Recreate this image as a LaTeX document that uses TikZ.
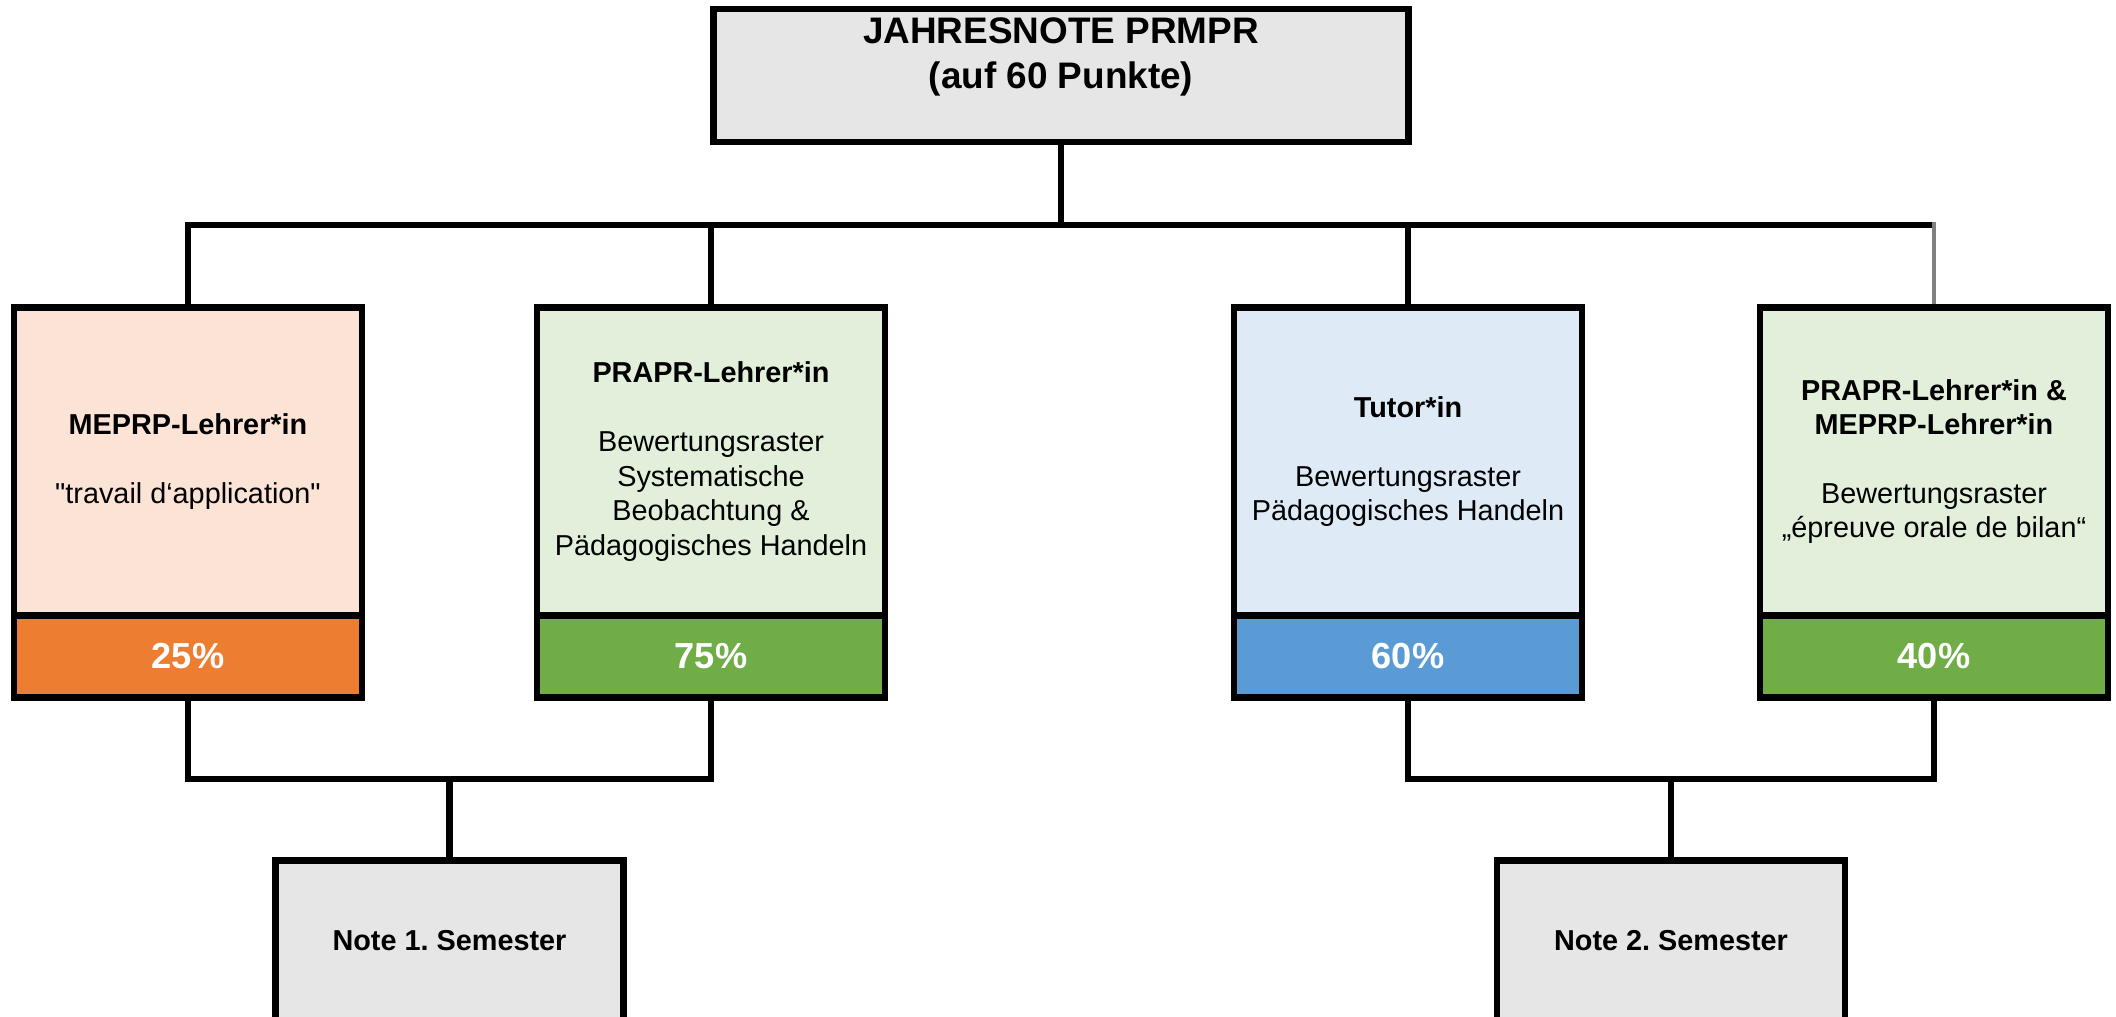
\documentclass[tikz,border=0pt]{standalone}
\usepackage{fontspec}
\setmainfont{Liberation Sans}
\frenchspacing
\definecolor{boxgray}{HTML}{E6E6E6}
\definecolor{peach}{HTML}{FBE3D6}
\definecolor{orangeband}{HTML}{ED7D31}
\definecolor{palegreen}{HTML}{E2EFDA}
\definecolor{greenband}{HTML}{70AD47}
\definecolor{paleblue}{HTML}{DEEBF7}
\definecolor{blueband}{HTML}{5B9BD5}
\definecolor{linkgray}{HTML}{808080}

\begin{document}
\begin{tikzpicture}[
  every node/.style={outer sep=0pt},
  box/.style={draw,line width=1.75pt,minimum width=3.48cm,minimum height=3.08cm,
    inner sep=0pt,align=center,font=\fontsize{8.2}{9.8}\selectfont},
  pct/.style={draw,line width=1.75pt,minimum width=3.48cm,minimum height=0.82cm,
    inner sep=0pt,text=white,font=\fontsize{10.3}{12}\selectfont\bfseries},
  semester/.style={draw,line width=1.75pt,fill=boxgray,minimum width=3.48cm,
    minimum height=1.6cm,font=\fontsize{8.2}{9.8}\selectfont\bfseries},
  link/.style={line width=1.75pt}
]
  \useasboundingbox (0,0) rectangle (21.16,-10.16);

  % top
  \node[draw,line width=1.75pt,fill=boxgray,minimum width=6.95cm,minimum height=1.33cm] (jahr) at (10.61,-0.755) {};
  \node[align=center,font=\fontsize{10.5}{13}\selectfont\bfseries] (jahrtext) at ([yshift=0.185cm]jahr.center) {JAHRESNOTE PRMPR\\(auf 60 Punkte)};

  % four parts
  \node[box,fill=peach] (meprp) at (1.88,-4.615) {\textbf{MEPRP-Lehrer*in}\\[9.8pt]\textquotedbl travail d‘application\textquotedbl};
  \node[box,fill=palegreen] (prapr) at (7.11,-4.615) {\textbf{PRAPR-Lehrer*in}\\[9.8pt]Bewertungsraster\\Systematische\\Beobachtung \&\\Pädagogisches Handeln};
  \node[box,fill=paleblue] (tutor) at (14.08,-4.615) {\textbf{Tutor*in}\\[9.8pt]Bewertungsraster\\Pädagogisches Handeln};
  \node[box,fill=palegreen] (duo) at (19.34,-4.615) {\textbf{PRAPR-Lehrer*in \&}\\\textbf{MEPRP-Lehrer*in}\\[9.8pt]Bewertungsraster\\„épreuve orale de bilan“};

  \node[pct,fill=orangeband,anchor=north] (meprppct) at (meprp.south) {25\%};
  \node[pct,fill=greenband,anchor=north] (praprpct) at (prapr.south) {75\%};
  \node[pct,fill=blueband,anchor=north] (tutorpct) at (tutor.south) {60\%};
  \node[pct,fill=greenband,anchor=north] (duopct) at (duo.south) {40\%};

  % semesters
  \node[semester] (sem1) at (4.495,-9.405) {Note 1. Semester};
  \node[semester] (sem2) at (16.71,-9.405) {Note 2. Semester};

  % links
  \coordinate (topbus) at (10.61,-2.25);
  \draw[link] (jahr.south) -- (topbus);
  \draw[link] (meprp.north) |- (topbus);
  \draw[link] (prapr.north) |- (topbus);
  \draw[link] (tutor.north) |- (topbus);
  \draw[link] (duo.north |- topbus) -- (topbus);
  \draw[link,linkgray,line width=1.4pt,shorten <=0.9pt,shorten >=-0.9pt] (duo.north) -- (duo.north |- topbus);

  \coordinate (lowbus1) at (4.495,-7.79);
  \draw[link] (meprppct.south) |- (lowbus1);
  \draw[link] (praprpct.south) |- (lowbus1);
  \draw[link] (lowbus1) -- (sem1.north);

  \coordinate (lowbus2) at (16.71,-7.79);
  \draw[link] (tutorpct.south) |- (lowbus2);
  \draw[link] (duopct.south) |- (lowbus2);
  \draw[link] (lowbus2) -- (sem2.north);
\end{tikzpicture}
\end{document}
